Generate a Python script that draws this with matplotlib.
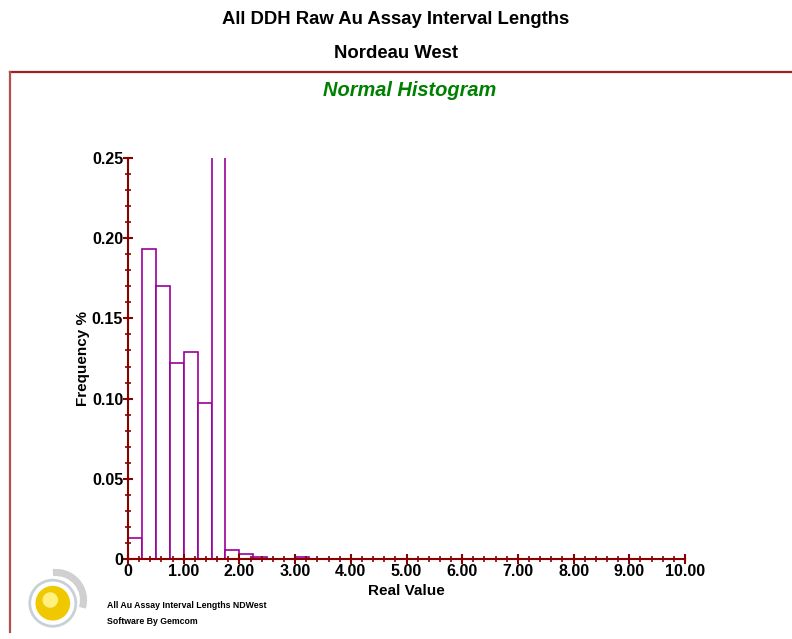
import numpy as np
import matplotlib
matplotlib.use('Agg')
import matplotlib.pyplot as plt
from matplotlib.patches import Circle, Wedge
from matplotlib.lines import Line2D
from matplotlib.ticker import MultipleLocator

plt.rcParams['font.family'] = ['Liberation Sans', 'DejaVu Sans']

# interval length histogram, bin width 0.25
bin_edges = np.arange(0, 10.25, 0.25)
bin_freq = [0.013, 0.193, 0.170, 0.122, 0.129, 0.097, 0.265, 0.0056,
            0.003, 0.001, 0.0003, 0.0, 0.001] + [0.0] * 27
x_ticks = [0, 1, 2, 3, 4, 5, 6, 7, 8, 9, 10]
x_labels = ['0', '1.00', '2.00', '3.00', '4.00', '5.00', '6.00', '7.00', '8.00', '9.00', '10.00']
y_ticks = [0, 0.05, 0.10, 0.15, 0.20, 0.25]
y_labels = ['0', '0.05', '0.10', '0.15', '0.20', '0.25']

axis_red = '#8b0000'
bar_purple = '#990099'

fig = plt.figure(figsize=(7.92, 6.39), dpi=100)

fig.text(0.5, 1 - 20 / 639, 'All DDH Raw Au Assay Interval Lengths', ha='center', va='center',
         fontsize=13.3, fontweight='bold')
fig.text(0.5, 1 - 54 / 639, 'Nordeau West', ha='center', va='center',
         fontsize=13.3, fontweight='bold')
fig.text(0.517, 1 - 90 / 639, 'Normal Histogram', ha='center', va='center',
         fontsize=14.4, fontweight='bold', style='italic', color='#008000')

# outer frame (top and left edges)
fig.add_artist(Line2D([10 / 792, 1.0], [1 - 72 / 639, 1 - 72 / 639], transform=fig.transFigure,
                      color='#a02020', lw=1.6))
fig.add_artist(Line2D([10 / 792, 10 / 792], [1 - 72 / 639, 1 - 632 / 639], transform=fig.transFigure,
                      color='#b05050', lw=1.6))

ax = fig.add_axes([128 / 792, 1 - 559 / 639, (685 - 128) / 792, (559 - 158) / 639])
ax.bar(bin_edges[:-1], bin_freq, width=0.25, align='edge', facecolor='white',
       edgecolor=bar_purple, linewidth=1.2, clip_on=True)
ax.set_xlim(0, 10)
ax.set_ylim(0, 0.25)

for s in ['top', 'right']:
    ax.spines[s].set_visible(False)
for s in ['left', 'bottom']:
    ax.spines[s].set_color(axis_red)
    ax.spines[s].set_linewidth(1.5)
    ax.spines[s].set_zorder(5)

ax.set_xticks(x_ticks)
ax.set_xticklabels(x_labels, fontweight='bold', fontsize=11.5)
ax.set_yticks(y_ticks)
ax.set_yticklabels(y_labels, fontweight='bold', fontsize=11.5)
ax.xaxis.set_minor_locator(MultipleLocator(0.2))
ax.yaxis.set_minor_locator(MultipleLocator(0.01))
ax.tick_params(which='major', direction='inout', length=7, width=1.5, color=axis_red, pad=0)
ax.tick_params(which='minor', direction='inout', length=4, width=1.2, color=axis_red)

ax.set_xlabel('Real Value', fontweight='bold', fontsize=11, labelpad=4)
ax.set_ylabel('Frequency %', fontweight='bold', fontsize=11, labelpad=1)

# footer
fig.text(107 / 792, 1 - 605 / 639, 'All Au Assay Interval Lengths NDWest', ha='left', va='center',
         fontsize=6.3, fontweight='bold')
fig.text(107 / 792, 1 - 622 / 639, 'Software By Gemcom', ha='left', va='center',
         fontsize=6.3, fontweight='bold')

# logo
lax = fig.add_axes([24 / 792, 1 - 632 / 639, 64 / 792, 64 / 639])
lax.set_xlim(-1, 1)
lax.set_ylim(-1, 1)
lax.set_aspect('equal')
lax.axis('off')
lax.add_patch(Wedge((0, 0), 0.95, -15, 95, width=0.18, color='#d0d0d0'))
lax.add_patch(Circle((-0.1, -0.1), 0.72, facecolor='none', edgecolor='#c8d0d8', lw=2))
lax.add_patch(Circle((-0.1, -0.1), 0.52, color='#f0c800'))
lax.add_patch(Circle((-0.18, 0.0), 0.22, color='#fff080'))

fig.savefig('out.png', dpi=100)
